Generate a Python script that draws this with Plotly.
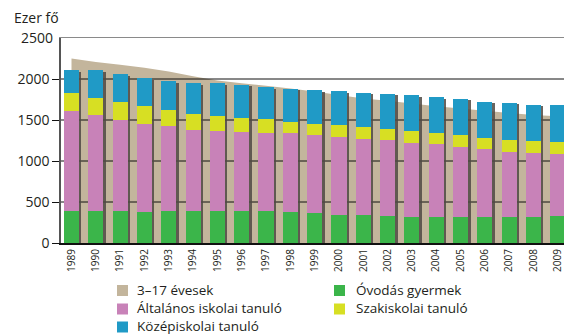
import plotly.graph_objects as go

# Tanévek és létszámok (ezer fő)
years = list(range(1989, 2010))
age_3_17 = [2250, 2208, 2174, 2137, 2092, 2035, 1983, 1948, 1918, 1884, 1847,
            1804, 1762, 1734, 1700, 1667, 1640, 1612, 1585, 1562, 1545]
ovodas = [388, 388, 388, 376, 388, 388, 388, 388, 388, 376, 364,
          339, 339, 327, 315, 315, 315, 315, 315, 315, 331]
altalanos = [1217, 1168, 1107, 1078, 1042, 993, 980, 968, 956, 968, 955,
             956, 931, 927, 906, 894, 857, 833, 796, 784, 756]
szakiskolai = [221, 217, 229, 221, 192, 196, 184, 172, 163, 131, 133,
               139, 143, 131, 139, 131, 143, 131, 147, 147, 147]
kozepiskolai = [278, 331, 331, 335, 355, 372, 397, 404, 397, 408, 416,
                416, 421, 437, 442, 441, 446, 445, 454, 441, 453]
y_ticks = [0, 500, 1000, 1500, 2000]
y_top = 2500

BEIGE = "#c3b59c"
GREEN = "#3bb54a"
PINK = "#c882b8"
YELLOW = "#d7df23"
BLUE = "#209ac6"
SHADOW = "#4f4a44"
TEXT = "#231f20"
FONT = "Open Sans"

pos = list(range(len(years)))
totals = [a + b + c + d for a, b, c, d in zip(ovodas, altalanos, szakiskolai, kozepiskolai)]

X_RANGE = [-0.432, 20.254]
Y_RANGE = [0, y_top]
BAR_W = 0.62
SHIFT_X = 0.1      # shadow offset to the right (category units)
SHIFT_Y = 22       # shadow offset downwards (value units)

# figure geometry in pixels
W, H = 564, 334
M_L, M_R, M_T, M_B = 61, 0, 38, 91
PW, PH = W - M_L - M_R, H - M_T - M_B


def px_x(px):
    return (px - M_L) / PW


def px_y(py):
    return (H - M_B - py) / PH


fig = go.Figure()

# 3-17 year-old population as a filled area behind everything
fig.add_trace(go.Scatter(
    x=pos, y=age_3_17, mode="none", fill="tozeroy", fillcolor=BEIGE,
    name="3–17 évesek", showlegend=False, hoverinfo="skip", xaxis="x", yaxis="y"))

# horizontal grid lines drawn over the area but below the bars
gx, gy = [], []
for v in y_ticks[1:]:
    gx += [X_RANGE[0] - 1, X_RANGE[1] + 1, None]
    gy += [v, v, None]
fig.add_trace(go.Scatter(
    x=gx, y=gy, mode="lines", line=dict(color="#111111", width=1),
    showlegend=False, hoverinfo="skip", xaxis="x", yaxis="y"))

# drop shadows of the columns
fig.add_trace(go.Bar(
    x=pos, y=totals, width=BAR_W, marker=dict(color=SHADOW, line=dict(width=0)),
    opacity=0.85, showlegend=False, hoverinfo="skip", xaxis="x2", yaxis="y2"))

series = [
    ("Óvodás gyermek", ovodas, GREEN),
    ("Általános iskolai tanuló", altalanos, PINK),
    ("Szakiskolai tanuló", szakiskolai, YELLOW),
    ("Középiskolai tanuló", kozepiskolai, BLUE),
]
for name, vals, color in series:
    fig.add_trace(go.Bar(
        x=pos, y=vals, name=name, width=BAR_W,
        marker=dict(color=color, line=dict(width=0)),
        showlegend=False, xaxis="x3", yaxis="y3"))

# two-column legend under the chart
legend_items = [
    ("3–17 évesek", BEIGE, 0, 0),
    ("Óvodás gyermek", GREEN, 1, 0),
    ("Általános iskolai tanuló", PINK, 0, 1),
    ("Szakiskolai tanuló", YELLOW, 1, 1),
    ("Középiskolai tanuló", BLUE, 0, 2),
]
col_swatch = [117, 334]
col_text = [136, 355]
row_center = [290.5, 309, 327]
SW = 11
shapes, annotations = [], []
for label, color, col, row in legend_items:
    cy = row_center[row]
    x0 = col_swatch[col]
    shapes.append(dict(
        type="rect", xref="paper", yref="paper",
        x0=px_x(x0), x1=px_x(x0 + SW), y0=px_y(cy + SW / 2), y1=px_y(cy - SW / 2),
        fillcolor=color, line=dict(width=0), layer="above"))
    annotations.append(dict(
        text=label, xref="paper", yref="paper",
        x=px_x(col_text[col]), y=px_y(cy - 1), xanchor="left", yanchor="middle",
        showarrow=False, borderpad=0, font=dict(size=13.5, color=TEXT)))

annotations.append(dict(
    text="Ezer fő", xref="paper", yref="paper",
    x=px_x(12), y=px_y(18), xanchor="left", yanchor="middle",
    showarrow=False, font=dict(size=14, color=TEXT)))

fig.update_layout(
    width=W, height=H,
    margin=dict(l=M_L, r=M_R, t=M_T, b=M_B, autoexpand=False),
    paper_bgcolor="white", plot_bgcolor="white",
    barmode="stack", bargap=0,
    font=dict(family=FONT, color=TEXT, size=13),
    showlegend=False,
    xaxis=dict(
        range=X_RANGE, tickvals=pos, ticktext=[str(y) for y in years],
        tickangle=-90, tickfont=dict(size=10, color=TEXT),
        ticklabeloverflow="allow",
        showline=True, linecolor="#111111", linewidth=2,
        showgrid=False, zeroline=False, ticks=""),
    yaxis=dict(
        range=Y_RANGE, tickvals=y_ticks, tickfont=dict(size=14, color=TEXT),
        showline=True, linecolor="#555555", linewidth=1.5,
        showgrid=False, zeroline=False,
        ticks="outside", ticklen=7, tickwidth=1, tickcolor="#111111",
        ticklabelstandoff=0),
    xaxis2=dict(range=[X_RANGE[0] - SHIFT_X, X_RANGE[1] - SHIFT_X],
                overlaying="x", anchor="y2", visible=False),
    yaxis2=dict(range=[Y_RANGE[0] + SHIFT_Y, Y_RANGE[1] + SHIFT_Y],
                overlaying="y", anchor="x2", visible=False),
    xaxis3=dict(range=X_RANGE, overlaying="x", anchor="y3", side="top",
                showline=True, linecolor="#8a8a8a", linewidth=1,
                showticklabels=False, showgrid=False, zeroline=False, ticks=""),
    yaxis3=dict(range=Y_RANGE, overlaying="y", anchor="x3", side="left",
                tickvals=[y_top], tickfont=dict(size=14, color=TEXT),
                showline=False, showgrid=False, zeroline=False, ticks="",
                ticklabelstandoff=7),
    shapes=shapes,
    annotations=annotations,
)

fig.write_html("out.html")
